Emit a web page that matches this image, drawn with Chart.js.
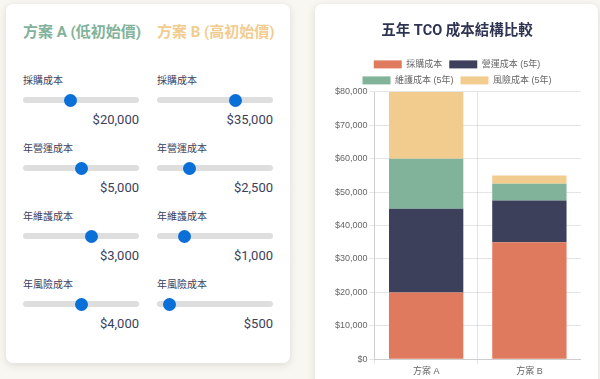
<!DOCTYPE html>
<html>
<head>
<meta charset="utf-8">
<script src="https://cdn.jsdelivr.net/npm/chart.js@4"></script>
<style>
  html, body { margin: 0; padding: 0; }
  body {
    width: 600px; height: 379px; overflow: hidden;
    background: #f8f7f2;
    font-family: "Roboto", "Noto Sans CJK TC", sans-serif;
    position: relative;
  }
  .card {
    position: absolute; background: #fff; border-radius: 7px;
    box-shadow: 0 2px 8px rgba(0,0,0,0.12);
    box-sizing: border-box;
  }
  #controls { left: 6px; top: 4px; width: 284px; height: 359px; padding: 17px; }
  #chart-card { left: 315px; top: 4px; width: 283px; height: 400px; padding: 16px 17px 16px 18px; }
  .cols { display: flex; gap: 18px; }
  .col { width: 116px; }
  .col h3 {
    margin: 0 0 31px 0; font-size: 15px; line-height: 22px; font-weight: 700;
    white-space: nowrap;
  }
  .group { height: 68px; }
  .group label { display: block; font-size: 10px; line-height: 14px; color: #3d405b; }
  .group .val {
    text-align: right; font-size: 13px; line-height: 16px; color: #3d405b; font-weight: 400;
  }
  input[type=range] {
    -webkit-appearance: none; appearance: none;
    display: block; width: 116px; height: 13px; margin: 5.5px 0; padding: 0;
    background: transparent;
  }
  input[type=range]::-webkit-slider-runnable-track {
    height: 6px; background: #dedede; border-radius: 3px;
  }
  input[type=range]::-webkit-slider-thumb {
    -webkit-appearance: none; width: 13px; height: 13px; border-radius: 50%;
    background: #0a6fd6; margin-top: -3.5px; border: none;
  }
</style>
</head>
<body>
<div class="card" id="controls">
  <div class="cols">
    <div class="col" id="col-a"><h3 style="color:#81b29a">方案 A (低初始價)</h3></div>
    <div class="col" id="col-b"><h3 style="color:#f2cc8f">方案 B (高初始價)</h3></div>
  </div>
</div>
<div class="card" id="chart-card">
  <canvas id="tco-chart" width="248" height="359"></canvas>
</div>
<script>
// Plans (x axis categories)
const plans = ['方案 A', '方案 B'];

// Cost components (legend)
const seriesNames = ['採購成本', '營運成本 (5年)', '維護成本 (5年)', '風險成本 (5年)'];
const seriesColors = ['#e07a5f', '#3d405b', '#81b29a', '#f2cc8f'];

// Slider inputs
const inputLabels = ['採購成本', '年營運成本', '年維護成本', '年風險成本'];
const inputMax = [50000, 10000, 5000, 8000];
const planAInputs = [20000, 5000, 3000, 4000];
const planBInputs = [35000, 2500, 1000, 500];

// Stacked values (5-year totals)
const purchaseCost = [20000, 35000];
const operatingCost = [25000, 12500];
const maintenanceCost = [15000, 5000];
const riskCost = [20000, 2500];

const yTicksMax = 80000;
const yTickStep = 10000;

const tickFont = { size: 9, family: '"Liberation Sans", "Noto Sans CJK TC", sans-serif' };

function money(v) {
    return '$' + v.toLocaleString('en-US');
}

// Build the slider columns
function buildColumn(id, values) {
    const col = document.getElementById(id);
    inputLabels.forEach((name, i) => {
        const g = document.createElement('div');
        g.className = 'group';
        g.innerHTML = '<label>' + name + '</label>' +
            '<input type="range" min="0" max="' + inputMax[i] + '" value="' + values[i] + '">' +
            '<div class="val">' + money(values[i]) + '</div>';
        col.appendChild(g);
    });
}
buildColumn('col-a', planAInputs);
buildColumn('col-b', planBInputs);

const stacks = [purchaseCost, operatingCost, maintenanceCost, riskCost];

// trims the extra space Chart.js leaves under the legend
const legendTrim = {
    id: 'legendTrim',
    beforeInit(chart) {
        const legend = chart.legend;
        if (!legend) return;
        const fit = legend.fit;
        legend.fit = function () {
            fit.apply(this, arguments);
            this.height -= 3;
        };
    }
};

new Chart(document.getElementById('tco-chart'), {
    type: 'bar',
    data: {
        labels: plans,
        datasets: seriesNames.map((name, i) => ({
            label: name,
            data: stacks[i],
            backgroundColor: seriesColors[i]
        }))
    },
    options: {
        responsive: false,
        animation: false,
        plugins: {
            title: {
                display: true,
                text: '五年 TCO 成本結構比較',
                color: '#2f3452',
                font: { size: 14.5, weight: 'bold', family: '"Roboto", "Noto Sans CJK TC", sans-serif' },
                padding: { top: 3, bottom: 12.5 }
            },
            legend: {
                labels: {
                    boxWidth: 28, boxHeight: 8, padding: 7,
                    color: '#666',
                    font: tickFont
                }
            },
            tooltip: { enabled: false }
        },
        scales: {
            x: {
                stacked: true,
                grid: { tickLength: 5 },
                ticks: { color: '#666', font: tickFont, padding: 2 }
            },
            y: {
                stacked: true,
                min: 0,
                max: yTicksMax,
                grid: { tickLength: 5 },
                ticks: {
                    stepSize: yTickStep,
                    color: '#666',
                    font: tickFont,
                    padding: 2,
                    callback: v => money(v)
                }
            }
        }
    },
    plugins: [legendTrim]
});
</script>
</body>
</html>
